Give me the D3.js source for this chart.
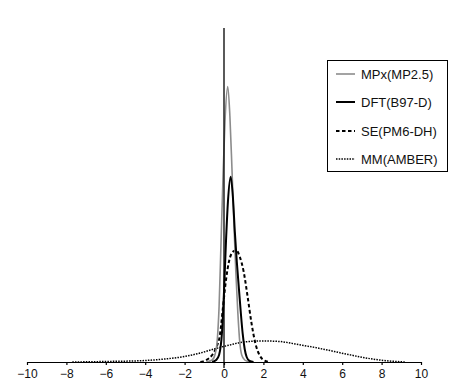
<!DOCTYPE html>
<html>
<head>
<meta charset="utf-8">
<script src="https://cdn.jsdelivr.net/npm/d3@7/dist/d3.min.js"></script>
<style>
  html, body { margin: 0; padding: 0; background: #fff; }
  svg { display: block; }
  text { font-family: "Liberation Sans", Arial, Helvetica, sans-serif; }
</style>
</head>
<body>
<svg id="chart" width="459" height="390"></svg>
<script>
// ---- data ----
const seriesNames = ["MPx(MP2.5)", "DFT(B97-D)", "SE(PM6-DH)", "MM(AMBER)"];
const xTicks = [-10, -8, -6, -4, -2, 0, 2, 4, 6, 8, 10];

const mpxX = [-0.9, -0.6, -0.45, -0.35, -0.25, -0.15, -0.05, 0.05, 0.19, 0.3, 0.4, 0.5, 0.6, 0.7, 0.8, 0.9, 1.05, 1.3];
const mpxY = [0, 0.012, 0.048, 0.12, 0.33, 0.72, 1.11, 1.44, 1.65, 1.47, 1.17, 0.84, 0.54, 0.30, 0.12, 0.042, 0.012, 0];

const dftX = [-0.6, -0.4, -0.25, -0.1, 0, 0.1, 0.2, 0.34, 0.45, 0.55, 0.65, 0.75, 0.85, 0.95, 1.05, 1.15, 1.3, 1.5];
const dftY = [0, 0.012, 0.042, 0.18, 0.42, 0.72, 0.96, 1.11, 0.99, 0.78, 0.60, 0.45, 0.30, 0.168, 0.078, 0.03, 0.006, 0];

const seX = [-1.2, -0.9, -0.6, -0.4, -0.2, -0.05, 0.1, 0.25, 0.45, 0.62, 0.8, 1.0, 1.2, 1.4, 1.6, 1.8, 2.0, 2.3];
const seY = [0, 0.012, 0.042, 0.084, 0.168, 0.33, 0.49, 0.60, 0.66, 0.67, 0.63, 0.54, 0.39, 0.23, 0.108, 0.042, 0.012, 0];

const mmX = [-7.7, -6, -4, -3, -2, -1.2, -0.5, 0.3, 1.0, 2.0, 2.8, 3.6, 5.0, 6.3, 7.7, 8.5, 9.2];
const mmY = [0, 0.003, 0.009, 0.018, 0.033, 0.054, 0.078, 0.102, 0.12, 0.126, 0.123, 0.108, 0.078, 0.045, 0.015, 0.005, 0];

// ---- layout ----
const svg = d3.select("#chart");
const x = d3.scaleLinear().domain([-10, 10]).range([27, 421]);
const y = d3.scaleLinear().domain([0, 2]).range([362, 28]);

const styles = [
  { stroke: "#8c8c8c", width: 1.6, dash: null },
  { stroke: "#000", width: 2.0, dash: null },
  { stroke: "#000", width: 2.0, dash: "3.5,2.5" },
  { stroke: "#000", width: 1.5, dash: "1.5,1.2" }
];

const series = [
  { name: seriesNames[0], xs: mpxX, ys: mpxY, style: styles[0] },
  { name: seriesNames[1], xs: dftX, ys: dftY, style: styles[1] },
  { name: seriesNames[2], xs: seX, ys: seY, style: styles[2] },
  { name: seriesNames[3], xs: mmX, ys: mmY, style: styles[3] }
];

const line = d3.line()
  .x(d => x(d[0]))
  .y(d => y(d[1]))
  .curve(d3.curveMonotoneX);

// draw order: MM, SE, MPx, DFT
[3, 2, 0, 1].forEach(i => {
  const s = series[i];
  const pts = s.xs.map((v, k) => [v, s.ys[k]]);
  svg.append("path")
    .attr("d", line(pts))
    .attr("fill", "none")
    .attr("stroke", s.style.stroke)
    .attr("stroke-width", s.style.width)
    .attr("stroke-dasharray", s.style.dash)
    .attr("stroke-linejoin", "round");
});

// x axis
const xAxis = d3.axisBottom(x)
  .tickValues(xTicks)
  .tickSize(3)
  .tickSizeOuter(0)
  .tickPadding(4)
  .tickFormat(d3.format("d"));

const gx = svg.append("g")
  .attr("transform", `translate(0,${y(0)})`)
  .call(xAxis);
gx.select(".domain").attr("stroke", "#000").attr("stroke-width", 1.2);
gx.selectAll(".tick line").attr("stroke", "#000").attr("stroke-width", 1.2);
gx.selectAll(".tick text")
  .attr("font-size", 12)
  .attr("fill", "#111")
  .style("font-family", "'Liberation Sans', Arial, sans-serif");

// vertical line at x = 0
svg.append("line")
  .attr("x1", x(0)).attr("x2", x(0))
  .attr("y1", y(2)).attr("y2", y(0) + 6)
  .attr("stroke", "#000")
  .attr("stroke-width", 1.3);

// legend
const lg = svg.append("g");
lg.append("rect")
  .attr("x", 327.5).attr("y", 60.5)
  .attr("width", 120).attr("height", 111)
  .attr("fill", "#fff")
  .attr("stroke", "#000")
  .attr("stroke-width", 1);

const rowY = [74, 102, 131, 159];
series.forEach((s, i) => {
  lg.append("line")
    .attr("x1", 336).attr("x2", 355)
    .attr("y1", rowY[i]).attr("y2", rowY[i])
    .attr("stroke", s.style.stroke)
    .attr("stroke-width", s.style.width)
    .attr("stroke-dasharray", s.style.dash);
  lg.append("text")
    .attr("x", 361)
    .attr("y", rowY[i])
    .attr("dy", "0.35em")
    .attr("font-size", 13)
    .attr("fill", "#111")
    .text(s.name);
});
</script>
</body>
</html>
